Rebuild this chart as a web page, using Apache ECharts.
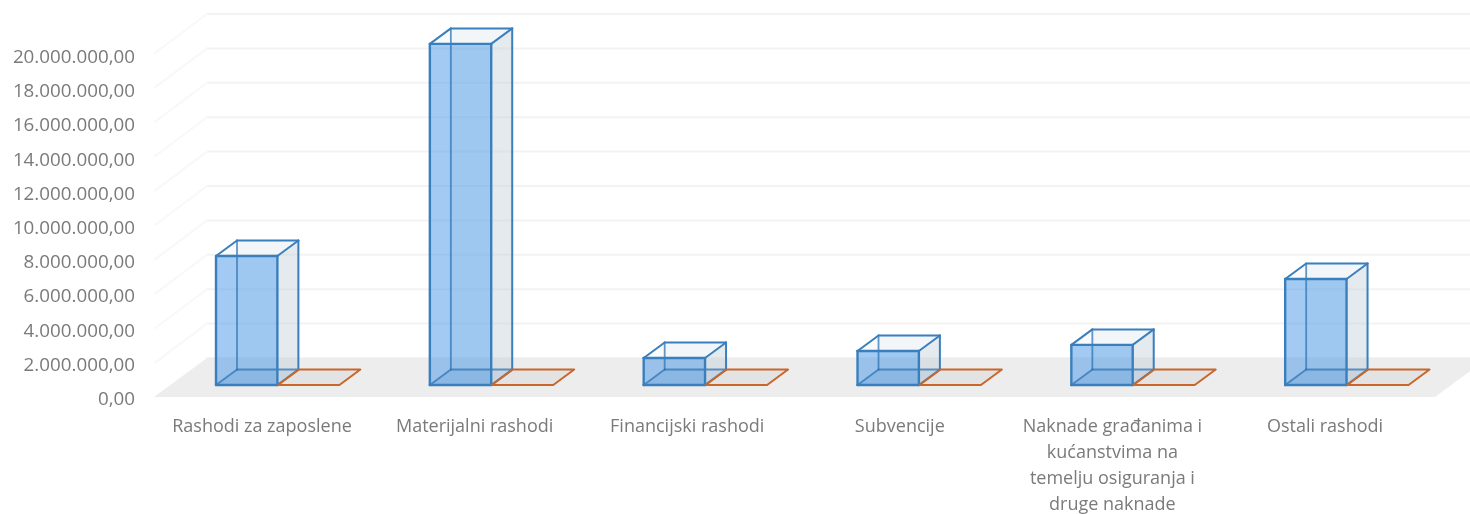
<!DOCTYPE html>
<html><head><meta charset="utf-8">
<style>html,body{margin:0;padding:0;background:#fff}#c{width:1470px;height:514px}</style>
<script src="https://cdn.jsdelivr.net/npm/echarts@6/dist/echarts.min.js"></script>
</head><body><div id="c"></div>
<script>
const categories = ["Rashodi za zaposlene","Materijalni rashodi","Financijski rashodi","Subvencije","Naknade građanima i\nkućanstvima na\ntemelju osiguranja i\ndruge naknade","Ostali rashodi"];
const seriesA = [7500000,19830000,1570000,1980000,2330000,6160000];
const seriesB = [0,0,0,0,0,0];
const ticks = [0,2000000,4000000,6000000,8000000,10000000,12000000,14000000,16000000,18000000,20000000];

const wallDX = 53, wallDY = -39;        // front plane -> back wall
const boxDX = 21, boxDY = -15.5, lift = 12; // bar depth, bar base above front edge
const grey = '#7a7a7a';

function fmt(v){
  const s = String(Math.round(v)).replace(/\B(?=(\d{3})+$)/g,'.');
  return s + ',00';
}
function poly(points, fill, z2){
  return {type:'polygon', shape:{points}, style:{fill, stroke:'none'}, z2:z2||0};
}
function line(a,b,color,w,z2){
  return {type:'line', shape:{x1:a[0],y1:a[1],x2:b[0],y2:b[1]}, style:{stroke:color,lineWidth:w,lineCap:'round'}, z2:z2||0};
}
function boxRender(offFrac, edge, isFlat){
  return function(params, api){
    const i = api.value(0), v = api.value(1);
    const top = api.coord([i,v]), zero = api.coord([i,0]);
    const band = api.size([1,0])[0];
    const w = band*0.287;
    const x0 = zero[0]+band*offFrac, x1 = x0+w;
    const yb = zero[1]-lift, yt = top[1]-lift;
    const F = (x,y)=>[x,y], B = (x,y)=>[x+boxDX,y+boxDY];
    const ch = [];
    if (isFlat){
      ch.push({type:'polygon', shape:{points:[F(x0,yb),F(x1,yb),B(x1,yb),B(x0,yb)]},
        style:{fill:'rgba(190,190,190,0.22)',stroke:edge,lineWidth:2,lineJoin:'round'}});
      return {type:'group',children:ch};
    }
    const back = 'rgba(200,212,225,0.10)';
    ch.push(poly([B(x0,yt),B(x1,yt),B(x1,yb),B(x0,yb)],back,1));
    ch.push(poly([F(x0,yb),F(x1,yb),B(x1,yb),B(x0,yb)],'rgba(70,120,170,0.18)',2));
    ch.push(poly([F(x1,yt),B(x1,yt),B(x1,yb),F(x1,yb)],'rgba(195,205,215,0.36)',3));
    ch.push(poly([F(x0,yt),F(x1,yt),B(x1,yt),B(x0,yt)],'rgba(205,215,225,0.12)',4));
    ch.push(poly([F(x0,yt),F(x1,yt),F(x1,yb),F(x0,yb)],'rgba(70,150,230,0.5)',5));
    const e2 = 'rgba(46,117,182,0.75)';
    // hidden edges
    ch.push(line(B(x0,yt),B(x0,yb),e2,1.8,6));
    ch.push(line(B(x0,yb),B(x1,yb),e2,1.8,6));
    ch.push(line(F(x0,yb),B(x0,yb),e2,1.8,6));
    // visible edges
    ch.push(line(B(x0,yt),B(x1,yt),edge,2,7));
    ch.push(line(B(x1,yt),B(x1,yb),edge,2,7));
    ch.push(line(F(x0,yt),B(x0,yt),edge,2,7));
    ch.push(line(F(x1,yt),B(x1,yt),edge,2,7));
    ch.push(line(F(x1,yb),B(x1,yb),edge,2,7));
    ch.push(line(F(x0,yt),F(x1,yt),edge,2.4,8));
    ch.push(line(F(x0,yb),F(x1,yb),edge,2.4,8));
    ch.push(line(F(x0,yt),F(x0,yb),edge,2.4,8));
    ch.push(line(F(x1,yt),F(x1,yb),edge,2.4,8));
    return {type:'group',children:ch};
  };
}
const chart = echarts.init(document.getElementById('c'),null,{renderer:'canvas'});
chart.setOption({
  animation:false,
  backgroundColor:'#fff',
  textStyle:{fontFamily:'"Open Sans"'},
  grid:[
    {left:154,right:33,top:53,bottom:117,outerBoundsMode:'none'},
    {left:155.7,right:38.7,top:57.7,bottom:114.3,outerBoundsMode:'none'}
  ],
  xAxis:[
    {type:'category',data:categories,
     axisLine:{show:false},axisTick:{show:false},splitLine:{show:false},axisLabel:{show:false}},
    {type:'category',gridIndex:1,data:categories,
     axisLine:{show:false},axisTick:{show:false},splitLine:{show:false},
     axisLabel:{interval:0,color:grey,fontFamily:'"Open Sans"',fontSize:18,lineHeight:26,margin:14.3,verticalAlign:'top',hideOverlap:false}}
  ],
  yAxis:[
    {type:'value',min:0,max:20000000,interval:2000000,
     axisLine:{show:false},axisTick:{show:false},splitLine:{show:false},axisLabel:{show:false}},
    {type:'value',gridIndex:1,min:0,max:20000000,interval:2000000,
     axisLine:{show:false},axisTick:{show:false},splitLine:{show:false},
     axisLabel:{color:grey,fontFamily:'"Open Sans"',fontSize:18.8,margin:20.7,formatter:fmt}}
  ],
  series:[
    {type:'custom',name:'walls',silent:true,z:1,clip:false,
     encode:{x:0,y:1},data:ticks.map(t=>[0,t]),
     renderItem(params,api){
       const v=api.value(1), y=api.coord([0,v])[1], cs=params.coordSys;
       const ch=[line([cs.x+wallDX,y+wallDY],[cs.x+cs.width+wallDX,y+wallDY],'#F3F3F3',2)];
       if(v>0) ch.push(line([cs.x+1,y],[cs.x+wallDX,y+wallDY],'#F8F8F8',2));
       return {type:'group',children:ch};
     }},
    {type:'custom',name:'floor',silent:true,z:2,clip:false,
     encode:{x:0,y:1},data:[[0,0]],
     renderItem(params,api){
       const y=api.coord([0,0])[1], cs=params.coordSys, l=cs.x, r=cs.x+cs.width-2;
       return poly([[l,y],[r,y],[r+wallDX,y+wallDY],[l+wallDX,y+wallDY]],'#EDEDED');
     }},
    {type:'custom',name:'A',z:3,clip:false,encode:{x:0,y:1},
     data:seriesA.map((v,i)=>[i,v]),renderItem:boxRender(-0.21,'#3A7FBD',false)},
    {type:'custom',name:'B',z:4,clip:false,encode:{x:0,y:1},
     data:seriesB.map((v,i)=>[i,v]),renderItem:boxRender(0.08,'#C9672A',true)}
  ]
});
</script></body></html>
